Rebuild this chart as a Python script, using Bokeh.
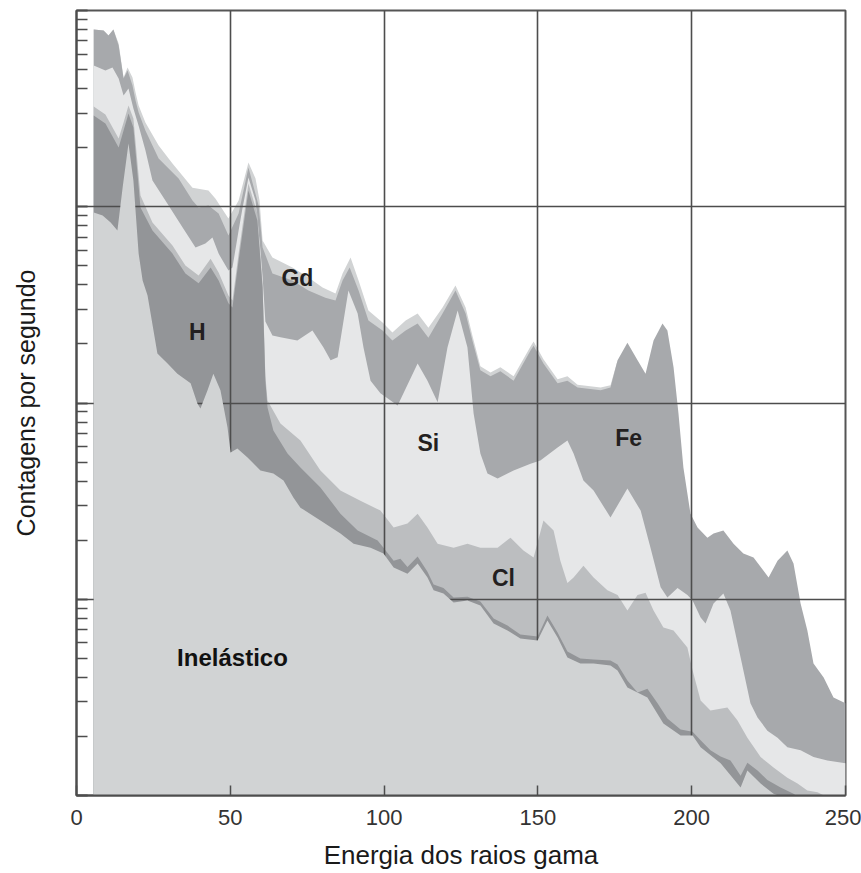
from bokeh.plotting import figure
from bokeh.models import ColumnDataSource, Range1d, FixedTicker, CustomJSTickFormatter
from bokeh.embed import file_html
from bokeh.resources import INLINE
from bokeh.core.properties import value

# ---------------- data (energy, counts per second) ----------------
energy_ticks = [0, 50, 100, 150, 200, 250]

# Inelástico (top boundary of the lowest layer)
inel_e = [5.6, 8.5, 11.1, 13.3, 15.0, 16.9, 18.5, 20.2, 21.5, 23.1, 26.3, 29.6, 32.8, 37.1, 39.3,
          40.3, 42.6, 44.5, 46.8, 49.1, 50.1, 52.3, 55.6, 59.8, 64.0, 67.3, 70.5, 72.8, 79.3, 85.8,
          90.1, 95.6, 99.8, 103.1, 107.6, 110.9, 114.1, 116.1, 119.3, 122.6, 127.1, 131.3, 135.6,
          140.1, 144.3, 149.9, 153.1, 156.4, 159.6, 163.8, 168.1, 173.6, 175.9, 179.1, 185.6, 190.8,
          196.4, 200.3, 202.9, 209.4, 215.9, 218.1, 222.4, 226.6, 233.1, 250.0]
inel_c = [935, 903, 831, 757, 1253, 2102, 1361, 577, 421, 353, 179, 159, 141, 126, 99.5,
          93.7, 116, 141, 116, 75.1, 56.0, 58.6, 52.8, 45.3, 43.7, 40.3, 33.0, 29.3, 25.2, 21.6,
          19.2, 18.3, 17.1, 14.5, 13.5, 15.2, 12.9, 11.1, 10.7, 9.63, 9.86, 9.30, 7.52,
          6.93, 6.31, 6.16, 7.79, 6.38, 5.05, 4.70, 4.70, 4.59, 4.33, 3.55, 3.16, 2.33,
          2.02, 2.02, 1.76, 1.46, 1.10, 1.34, 1.15, 1.02, 0.94, 0.70]

# H (cumulative top)
h_e = [5.6, 9.4, 13.7, 15.3, 16.9, 18.5, 20.8, 24.7, 31.2, 35.4, 39.7, 43.6, 46.2, 49.4, 50.7,
       52.7, 55.9, 58.8, 60.5, 61.4, 62.1, 64.0, 68.6, 72.8, 79.3, 85.8, 91.4, 97.9, 99.8, 103.1,
       105.3, 107.6, 110.9, 114.1, 116.1, 119.3, 122.6, 127.1, 131.3, 135.6, 140.1, 144.3, 149.9,
       153.1, 156.4, 159.6, 163.8, 168.1, 173.6, 175.9, 179.1, 182.4, 185.6, 188.9, 192.1, 196.4,
       200.3, 202.9, 206.1, 209.4, 212.6, 215.9, 218.1, 221.4, 224.6, 228.9, 233.1, 238.6, 250.0]
h_c = [2915, 2654, 2005, 2446, 2985, 2532, 991, 757, 577, 457, 407, 490, 421, 322, 307,
       532, 1210, 851, 388, 130, 94.9, 72.4, 55.3, 46.9, 37.1, 27.3, 22.4, 19.9, 18.3, 15.7,
       16.1, 14.6, 16.5, 13.8, 11.9, 11.4, 10.2, 10.3, 9.74, 7.97, 7.35, 6.61, 6.46,
       8.26, 6.77, 5.42, 4.99, 4.93, 4.87, 4.65, 3.85, 3.35, 3.50, 2.95, 2.47, 2.17,
       2.11, 1.91, 1.70, 1.58, 1.51, 1.26, 1.47, 1.34, 1.20, 1.10, 1.02, 0.89, 0.70]

# Cl (cumulative top)
cl_e = [5.6, 9.4, 13.7, 15.3, 16.9, 18.5, 20.8, 24.7, 31.2, 35.4, 39.7, 43.6, 46.2, 49.4, 50.7,
        52.7, 55.9, 58.8, 60.5, 61.4, 62.1, 66.3, 72.8, 79.3, 85.8, 92.3, 98.8, 103.1, 107.6,
        110.9, 114.1, 117.4, 122.6, 127.1, 131.3, 136.9, 141.1, 145.3, 148.6, 151.8, 155.1, 157.3,
        159.6, 161.6, 164.8, 168.1, 172.6, 175.9, 179.1, 182.4, 185.0, 187.6, 190.8, 194.1, 198.6,
        200.3, 202.9, 206.1, 211.6, 214.9, 218.1, 222.4, 226.6, 231.1, 234.4, 237.6, 240.9, 244.1,
        250.0]
cl_c = [3240, 2950, 2230, 2685, 3278, 2813, 1141, 831, 635, 502, 446, 544, 462, 353, 333,
        577, 1314, 924, 400, 138, 103, 78.7, 64.4, 45.3, 35.8, 31.8, 28.3, 23.2, 24.3,
        27.3, 23.2, 19.2, 18.3, 19.2, 18.3, 18.3, 20.6, 17.7, 16.3, 25.2, 22.4, 15.7,
        12.1, 12.9, 14.8, 12.9, 11.1, 10.5, 8.76, 10.5, 10.8, 8.76, 7.17, 6.93, 5.67,
        4.33, 3.05, 2.71, 2.81, 2.41, 1.97, 1.57, 1.39, 1.23, 1.15, 1.06, 1.04, 0.98,
        0.79]

# Si (cumulative top)
si_e = [5.6, 9.4, 11.7, 13.7, 15.3, 16.9, 18.5, 20.2, 22.4, 24.7, 28.9, 34.5, 38.7, 41.9, 44.2,
        46.2, 49.4, 50.7, 52.7, 54.0, 55.9, 58.2, 59.8, 60.5, 61.4, 63.7, 66.3, 71.8, 76.7, 80.3,
        82.6, 84.9, 88.4, 91.4, 93.3, 95.6, 98.8, 104.4, 110.9, 114.1, 117.4, 120.6, 123.9, 127.1,
        129.1, 131.3, 133.6, 136.9, 142.1, 147.6, 150.8, 156.4, 159.6, 161.6, 164.8, 168.1, 173.6,
        179.1, 183.4, 186.6, 189.9, 192.1, 195.4, 198.6, 200.3, 202.9, 204.5, 207.1, 210.3, 212.6,
        215.9, 219.1, 221.4, 224.6, 227.9, 231.1, 235.4, 239.6, 244.1, 250.0]
si_c = [5240, 4940, 5120, 4500, 3690, 4000, 3170, 2590, 1940, 1360, 1076, 784, 620, 650, 697,
        577, 473, 490, 757, 991, 1410, 1076, 600, 440, 260, 221, 216, 208, 234, 192,
        165, 171, 374, 286, 192, 130, 112, 97.1, 159, 130, 101, 192, 296, 192,
        88.4, 55.3, 43.7, 41.2, 45.3, 49.1, 50.9, 59.3, 64.4, 55.3, 40.3, 35.8, 26.1,
        36.7, 28.3, 18.3, 11.5, 10.2, 11.4, 10.5, 9.86, 8.07, 7.52, 9.52, 10.7, 8.76,
        5.05, 2.95, 2.50, 2.14, 1.97, 1.76, 1.70, 1.57, 1.51, 1.46]

# Fe (cumulative top)
fe_e = [5.6, 8.8, 10.4, 12.0, 13.7, 15.3, 16.6, 18.2, 19.2, 20.2, 22.4, 26.7, 33.2, 37.7, 39.7,
        42.9, 46.2, 49.4, 52.7, 55.9, 59.2, 60.5, 63.7, 70.2, 75.4, 80.9, 84.2, 86.5, 88.8, 91.7,
        94.9, 99.5, 102.7, 107.0, 110.9, 114.4, 119.0, 123.2, 126.5, 128.7, 131.3, 134.6, 137.8,
        142.1, 147.6, 148.6, 151.8, 156.4, 159.6, 162.9, 170.4, 173.6, 175.9, 179.1, 182.4, 185.0,
        187.6, 190.5, 192.1, 194.1, 195.7, 197.3, 199.6, 201.9, 205.1, 207.1, 210.3, 213.6, 216.8,
        220.1, 223.3, 225.0, 227.9, 231.1, 233.1, 235.4, 237.6, 239.6, 242.9, 246.1, 250.0]
fe_c = [8000, 7910, 7460, 8000, 6630, 4500, 4940, 4150, 3480, 3020, 2450, 1763, 1394, 1076, 991,
        1015, 924, 714, 924, 1586, 1015, 620, 457, 421, 374, 344, 333, 421, 490, 374,
        263, 234, 208, 234, 254, 215, 286, 374, 286, 208, 147, 137, 145,
        130, 185, 196, 159, 126, 130, 120, 116, 120, 165, 203, 165, 141,
        208, 254, 234, 152, 88.4, 46.9, 27.3, 23.2, 20.6, 21.6, 22.4, 19.2, 17.1,
        16.3, 14.0, 12.9, 15.7, 17.7, 15.2, 9.52, 6.93, 4.70, 3.99, 3.16, 2.95]

# Gd (cumulative top)
gd_e = [5.6, 8.8, 10.4, 12.0, 13.7, 15.3, 16.6, 18.2, 19.2, 20.2, 22.4, 26.7, 31.2, 37.7, 42.9,
        45.2, 49.4, 52.7, 55.9, 58.2, 59.5, 60.5, 63.7, 70.2, 75.4, 80.0, 84.2, 86.5, 89.1, 91.7,
        94.9, 99.5, 102.7, 107.0, 110.9, 114.4, 119.0, 123.2, 126.5, 128.7, 131.3, 134.6, 137.8,
        142.1, 147.6, 148.6, 151.8, 156.4, 159.6, 162.9, 170.4, 173.6, 175.9]
gd_c = [8000, 7910, 7460, 8000, 6790, 4550, 5120, 4550, 3820, 3280, 2690, 2050, 1660, 1250, 1210,
        1100, 871, 1076, 1680, 1394, 1076, 673, 551, 490, 436, 388, 361, 457, 551, 421,
        296, 257, 229, 263, 286, 242, 307, 397, 307, 221, 154, 143, 152,
        137, 194, 206, 167, 132, 137, 124, 120, 123, 165]

layer_names = ["Inelástico", "H", "Cl", "Si", "Fe", "Gd"]
label_e = [50.7, 39.3, 138.8, 114.4, 179.5, 71.8]
label_c = [5.05, 229, 12.8, 62.2, 66.7, 431]

# ---------------- figure ----------------
p = figure(width=861, height=873,
           x_range=Range1d(0, 250), y_range=Range1d(1, 10000),
           y_axis_type="log", output_backend="svg", toolbar_location=None,
           min_border_left=76, min_border_right=16, min_border_top=10, min_border_bottom=78,
           background_fill_color="white", border_fill_color="white")

BASE = 0.1
layers = [
    (gd_e, gd_c, "#d1d3d4"),
    (fe_e, fe_c, "#a7a9ac"),
    (si_e, si_c, "#e6e7e8"),
    (cl_e, cl_c, "#bcbec0"),
    (h_e, h_c, "#939598"),
]
for xs, ys, col in layers:
    src = ColumnDataSource(dict(x=xs, top=ys, base=[BASE] * len(xs)))
    p.varea(x="x", y1="base", y2="top", source=src, fill_color=col, level="image")

inel_src = ColumnDataSource(dict(x=inel_e, top=inel_c, base=[BASE] * len(inel_e)))
p.varea(x="x", y1="base", y2="top", source=inel_src, fill_color="#d1d3d4")

LABEL_FONT = "Liberation Sans"
big = ColumnDataSource(dict(x=label_e[:1], y=label_c[:1], t=layer_names[:1]))
small = ColumnDataSource(dict(x=label_e[1:], y=label_c[1:], t=layer_names[1:]))
p.text(x="x", y="y", text="t", source=big, text_font=value(LABEL_FONT),
       text_font_style="bold", text_font_size="24px", text_color="#111111",
       text_align="center", text_baseline="middle")
p.text(x="x", y="y", text="t", source=small, text_font=value(LABEL_FONT),
       text_font_style="bold", text_font_size="23px", text_color="#231f20",
       text_align="center", text_baseline="middle")

# grid
p.grid.grid_line_color = "#4d4d4d"
p.grid.grid_line_width = 1.6
p.xaxis.ticker = FixedTicker(ticks=energy_ticks)

# outline
p.outline_line_color = "#555555"
p.outline_line_width = 2

# axes
for ax in p.axis:
    ax.axis_line_color = "#4d4d4d"
    ax.axis_line_width = 2
    ax.major_tick_line_color = "#4d4d4d"
    ax.minor_tick_line_color = "#4d4d4d"
    ax.major_tick_line_width = 1.5
    ax.minor_tick_line_width = 1.5
    ax.major_tick_out = 0
    ax.minor_tick_out = 0
    ax.axis_label_text_font = "Liberation Sans"
    ax.axis_label_text_font_style = "normal"
    ax.axis_label_text_color = "#1a1a1a"

p.xaxis.major_tick_in = 10
p.xaxis.minor_tick_line_color = None
p.xaxis.major_label_text_font = "Liberation Sans"
p.xaxis.major_label_text_font_size = "22px"
p.xaxis.major_label_text_color = "#333333"
p.xaxis.major_label_standoff = 14
p.xaxis.axis_label = "Energia dos raios gama"
p.xaxis.axis_label_text_font_size = "26px"
p.xaxis.axis_label_standoff = 12

p.yaxis.major_tick_in = 11
p.yaxis.minor_tick_in = 11
p.yaxis.formatter = CustomJSTickFormatter(code="return ''")
p.yaxis.major_label_text_font_size = "1px"
p.yaxis.major_label_standoff = 0
p.yaxis.axis_label = "Contagens por segundo"
p.yaxis.axis_label_text_font_size = "25px"
p.yaxis.axis_label_standoff = 37

open("out.html", "w").write(file_html(p, INLINE))
